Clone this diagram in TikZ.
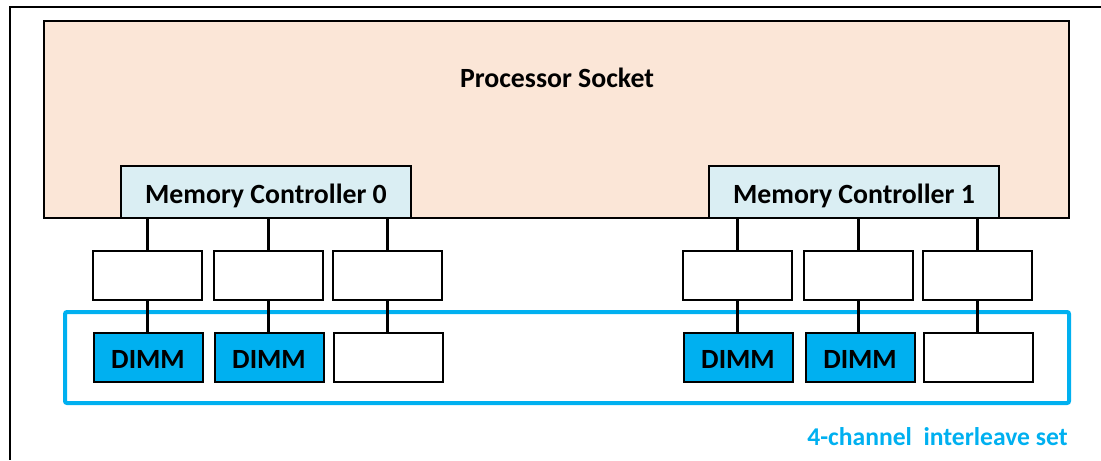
\documentclass[tikz,border=0pt]{standalone}
\usepackage{fontspec}
\setmainfont{Carlito}
\usetikzlibrary{positioning}
\definecolor{socketfill}{HTML}{FBE6D7}
\definecolor{ctrlfill}{HTML}{DAEEF3}
\definecolor{dimmblue}{HTML}{00B0F0}
\tikzset{
	big/.style={font=\bfseries\fontsize{13.9}{16}\selectfont, text height=11pt, text depth=0pt},
	socket/.style={draw=black, line width=1pt, fill=socketfill, minimum width=512.5pt, minimum height=98.5pt, inner sep=0pt},
	ctrl/.style={big, draw=black, line width=1pt, fill=ctrlfill, minimum width=145pt, minimum height=26pt, inner sep=0pt},
	slot/.style={draw=black, line width=1pt, fill=white, minimum width=54.5pt, minimum height=24.5pt, inner sep=0pt},
	dimm/.style={slot, big, fill=dimmblue},
	link/.style={line width=1.5pt},
	frame/.style={line width=0.8pt}
}

\begin{document}
\begin{tikzpicture}
	[ x=0.5pt, y=-0.5pt ]
	\useasboundingbox (0,0) rectangle (1101,460);
	\draw[frame] (1101,7) -- (10,7) -- (10,460);
	\node[socket] (ps) at (556.5,119.5) {};
	\node[big] (pst) at (557,76.5) {Processor Socket};
	\node[ctrl] (c0) at (266,192) {Memory Controller 0};
	\node[ctrl] (c1) at (854,192) {Memory Controller 1};
	% interleave set
	\draw[dimmblue, line width=2pt, rounded corners=1pt] (65,312) rectangle (1069,403);
	\node[font=\bfseries\fontsize{12.8}{15}\selectfont, text=dimmblue, anchor=east, inner sep=0pt] (set) at (1068,437) {4-channel\ \ interleave set};
	% slots
	\node[slot] (b0) at (147,275) {};
	\node[slot] (b1) at (268,275) {};
	\node[slot] (b2) at (387,275) {};
	\node[slot] (b3) at (737,275) {};
	\node[slot] (b4) at (858,275) {};
	\node[slot] (b5) at (977,275) {};
	\node[dimm] (d0) at (148,357) {DIMM};
	\node[dimm] (d1) at (269,357) {DIMM};
	\node[slot] (d2) at (388,357) {};
	\node[dimm] (d3) at (738,357) {DIMM};
	\node[dimm] (d4) at (860,357) {DIMM};
	\node[slot] (d5) at (978,357) {};
	\foreach \i in {0,1,2} {
		\draw[link] (b\i.north) -- (b\i.north |- c0.south);
	}
	\foreach \i in {3,4,5} {
		\draw[link] (b\i.north) -- (b\i.north |- c1.south);
	}
	\foreach \i in {0,...,5} {
		\draw[link] (b\i.south) -- (b\i.south |- d\i.north);
	}
\end{tikzpicture}
\end{document}
